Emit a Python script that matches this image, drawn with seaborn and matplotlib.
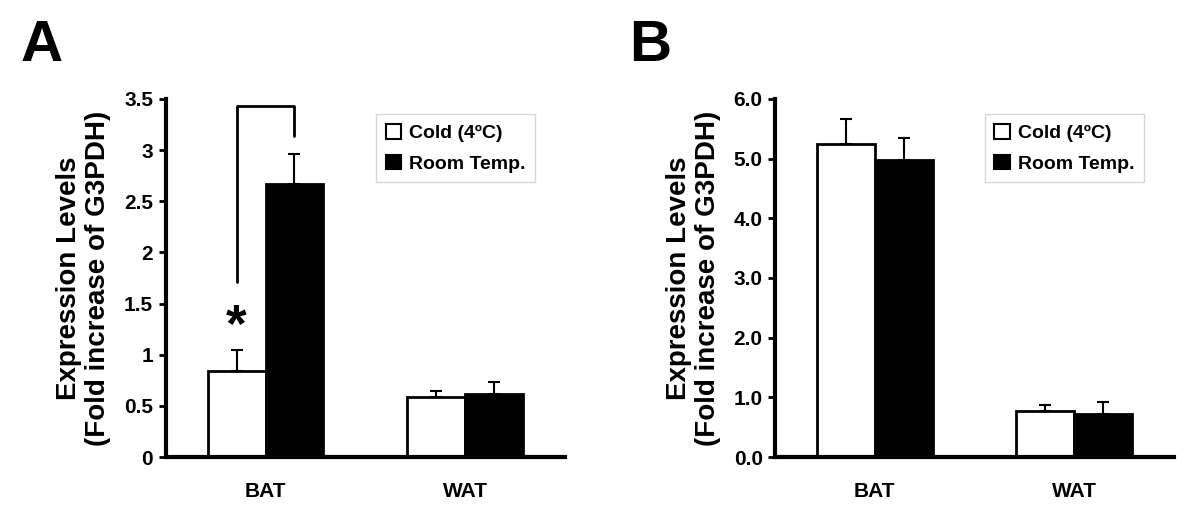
import numpy as np
import pandas as pd
import matplotlib.pyplot as plt
import seaborn as sns
from matplotlib.patches import Patch

# data
tissues = ['BAT', 'WAT']
groups = ['Cold (4ºC)', 'Room Temp.']
a_cold = [0.84, 0.59]
a_room = [2.67, 0.62]
a_cold_err = [0.21, 0.06]
a_room_err = [0.29, 0.11]
b_cold = [5.25, 0.78]
b_room = [4.97, 0.73]
b_cold_err = [0.42, 0.10]
b_room_err = [0.38, 0.19]

sns.set_style('white')
plt.rcParams['font.family'] = ['Liberation Sans', 'DejaVu Sans']
plt.rcParams['font.weight'] = 'bold'
for k in ['text.color', 'axes.labelcolor', 'xtick.color', 'ytick.color']:
    plt.rcParams[k] = 'black'

fig = plt.figure(figsize=(12, 5.26), dpi=100)
ax_a = fig.add_axes([0.138, 0.131, 0.333, 0.681])
ax_b = fig.add_axes([0.646, 0.131, 0.332, 0.681])


def draw_panel(ax, cold, room, cold_err, room_err, ymax, step, fmt):
    df = pd.DataFrame({
        'tissue': tissues * 2,
        'group': [groups[0]] * 2 + [groups[1]] * 2,
        'value': cold + room,
    })
    sns.barplot(data=df, x='tissue', y='value', hue='group', order=tissues,
                hue_order=groups, palette=['white', 'black'], edgecolor='black',
                linewidth=2, width=0.58, errorbar=None, legend=False, ax=ax)
    errs = [cold_err, room_err]
    for cont, err in zip(ax.containers, errs):
        xs = [b.get_x() + b.get_width() / 2 for b in cont]
        hs = [b.get_height() for b in cont]
        ax.errorbar(xs, hs, yerr=[np.zeros(len(err)), err], fmt='none',
                    ecolor='black', elinewidth=1.5, capsize=4.5, capthick=1.5)
    ax.set_ylim(0, ymax)
    ax.set_xlim(-0.5, 1.5)
    ticks = np.arange(0, ymax + 1e-9, step)
    ax.set_yticks(ticks)
    ax.set_yticklabels([fmt(t) for t in ticks], fontsize=15, fontweight='bold')
    ax.set_xticks([0, 1])
    ax.set_xticklabels(tissues, fontsize=15, fontweight='bold')
    ax.tick_params(axis='x', length=0, pad=18)
    ax.tick_params(axis='y', length=5, width=2, direction='out', left=True, pad=4)
    for s in ['top', 'right']:
        ax.spines[s].set_visible(False)
    for s in ['left', 'bottom']:
        ax.spines[s].set_linewidth(3)
        ax.spines[s].set_color('black')
    ax.set_xlabel('')
    ax.set_ylabel('Expression Levels\n(Fold increase of G3PDH)', fontsize=20,
                  fontweight='bold', labelpad=9, linespacing=1.15)
    handles = [Patch(facecolor='white', edgecolor='black', linewidth=1.5),
               Patch(facecolor='black', edgecolor='black', linewidth=1.5)]
    leg = ax.legend(handles, groups, loc='upper right', bbox_to_anchor=(0.95, 0.985),
                    fontsize=14, frameon=True, fancybox=False, handlelength=0.8,
                    handleheight=0.8, handletextpad=0.4, borderpad=0.5,
                    labelspacing=0.65)
    leg.get_frame().set_edgecolor('#cccccc')
    leg.get_frame().set_linewidth(1)
    for t in leg.get_texts():
        t.set_fontweight('bold')


draw_panel(ax_a, a_cold, a_room, a_cold_err, a_room_err, 3.5, 0.5,
           lambda t: f'{t:g}')
draw_panel(ax_b, b_cold, b_room, b_cold_err, b_room_err, 6.0, 1.0,
           lambda t: f'{t:.1f}')

# significance bracket in panel A
bars = ax_a.containers
x1 = bars[0][0].get_x() + bars[0][0].get_width() / 2
x2 = bars[1][0].get_x() + bars[1][0].get_width() / 2
ax_a.plot([x1, x1, x2, x2], [1.71, 3.43, 3.43, 3.14], color='black', lw=2)
ax_a.text(x1, 1.02, '*', ha='center', va='bottom', fontsize=38, fontweight='bold')

fig.text(0.017, 0.884, 'A', fontsize=42, fontweight='bold', va='baseline')
fig.text(0.524, 0.884, 'B', fontsize=42, fontweight='bold', va='baseline')

fig.savefig('out.png', dpi=100)
